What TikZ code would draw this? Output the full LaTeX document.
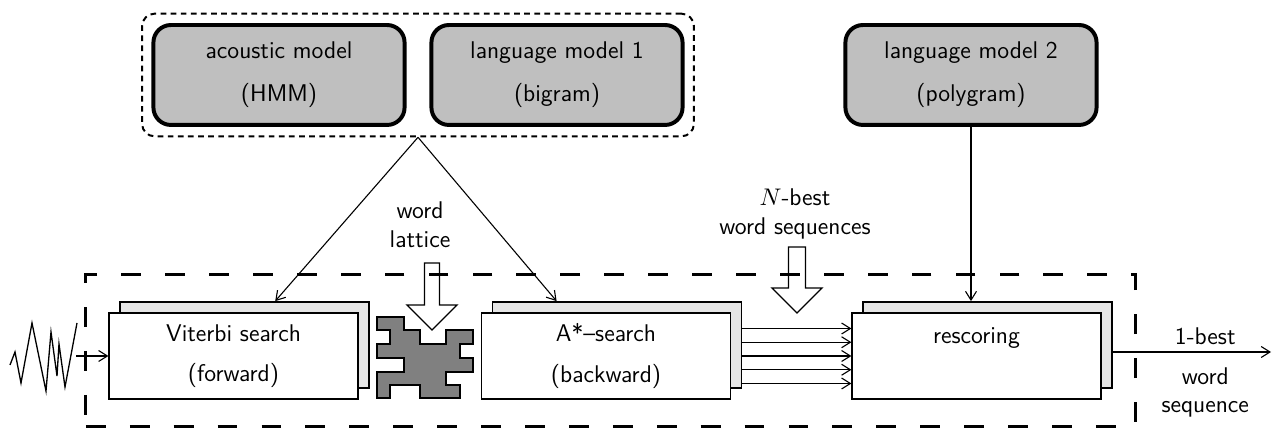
\documentclass[tikz,border=0pt]{standalone}
\usetikzlibrary{positioning, arrows.meta, calc, fit}

\begin{document}
\begin{tikzpicture}[
  x=0.016cm, y=-0.016cm,
  font=\sffamily\fontsize{11}{13}\selectfont,
  >={Straight Barb[length=4pt,width=5pt]}
]
% -------------------- Styles --------------------
\tikzset{
  model/.style={
    draw, line width=1.8pt, rounded corners=0.28cm,
    fill=black!25, align=center, inner sep=0pt,
    minimum width=4.02cm, minimum height=1.6cm
  },
  group/.style={
    draw, dash pattern=on 2.6pt off 2pt, line width=0.9pt,
    rounded corners=0.2cm, inner sep=0.15cm
  },
  stage/.style={
    draw, line width=0.7pt, fill=white,
    align=center, inner sep=0pt,
    minimum width=3.98cm, minimum height=1.38cm
  },
  stageback/.style={stage, fill=black!10},
  frame/.style={
    draw, dash pattern=on 9pt off 11pt, line width=1.3pt,
    inner xsep=0.36cm, inner ysep=0.43cm
  },
  arrow/.style={->, line width=0.5pt},
  hollow/.style={draw, line width=0.6pt, line join=miter},
  lbl/.style={align=center, inner sep=1pt}
}
\useasboundingbox (0,0) rectangle (1273,429);

% -------------------- Knowledge sources (top) --------------------
\node[model] (acoustic) at (279,75) {acoustic model\\[6.5pt](HMM)};
\node[model] (lm1) at (557,75) {language model 1\\[6.5pt](bigram)};
\node[group, fit=(acoustic)(lm1)] (models) {};
\node[model] (lm2) at (971,75) {language model 2\\[6.5pt](polygram)};

% -------------------- Search stages (bottom row) --------------------
\node[stageback] (viterbiback) at (244.5,345) {};
\node[stage] (viterbi) at (233.5,356) {Viterbi search\\[5.5pt](forward)};

\node[stageback] (astarback) at (617,345) {};
\node[stage] (astar) at (606,356) {A*--search\\[5.5pt](backward)};

\node[stageback] (rescoreback) at (987.5,345) {};
\node[stage] (rescore) at (976.5,356) {rescoring\\[5.5pt]~};

\node[frame, fit=(viterbi)(viterbiback)(rescore)(rescoreback)] (system) {};

% word lattice
\draw[fill=black!50, line width=0.6pt]
  (377,317) -- (404,317) -- (404,330) -- (420,330) -- (420,344) -- (446,344)
  -- (446,330) -- (473,330) -- (473,344) -- (460,344) -- (460,358) -- (473,358)
  -- (473,372) -- (446,372) -- (446,385) -- (460,385) -- (460,398) -- (420,398)
  -- (420,385) -- (390,385) -- (390,398) -- (377,398) -- (377,372) -- (404,372)
  -- (404,358) -- (377,358) -- (377,344) -- (390,344) -- (390,330) -- (377,330)
  -- cycle;

% speech signal
\draw[line width=0.6pt] (10,365) -- (15,352) -- (21,383) -- (32,323) -- (46,391)
  -- (51,332) -- (57,376) -- (59,344) -- (65,387) -- (77,323);
\coordinate (sigout) at (76,356);
\draw[arrow] (sigout) -- (viterbi.west);

% -------------------- Connectors --------------------
\coordinate (apex) at (models.south);
\draw[arrow] (apex) -- (viterbiback.55);
\draw[arrow] (apex) -- (astarback.144);
\draw[arrow] (lm2.south) -- (lm2.south |- rescoreback.north);

\foreach \k in {-2,...,2}
  \draw[arrow] ($(astarback.east |- rescore.west)+(0,\k*13.75)$)
    -- ($(rescore.west)+(0,\k*13.75)$);

\coordinate (outend) at (1271,352);
\draw[arrow] (rescoreback.east |- outend) -- (outend)
  node[lbl, pos=0.585, above=2pt] (onebest) {1-best}
  node[lbl, pos=0.585, below=0.2cm] (wordseq) {word\\sequence};

% hollow arrows + labels
\coordinate (lattip) at (432,330);
\draw[hollow] (lattip) -- ++(-25,-25) -- ++(17.5,0) -- ++(0,-42)
  -- ++(15,0) -- ++(0,42) -- ++(17.5,0) -- cycle;
\node[lbl] (latlabel) at (420,225) {word\\lattice};

\coordinate (nbesttip) at (797,313);
\draw[hollow] (nbesttip) -- ++(-25,-25) -- ++(16.5,0) -- ++(0,-41)
  -- ++(17,0) -- ++(0,41) -- ++(16.5,0) -- cycle;
\node[lbl] (nbestlabel) at (795,214) {$N$-best\\word sequences};

\end{tikzpicture}
\end{document}
